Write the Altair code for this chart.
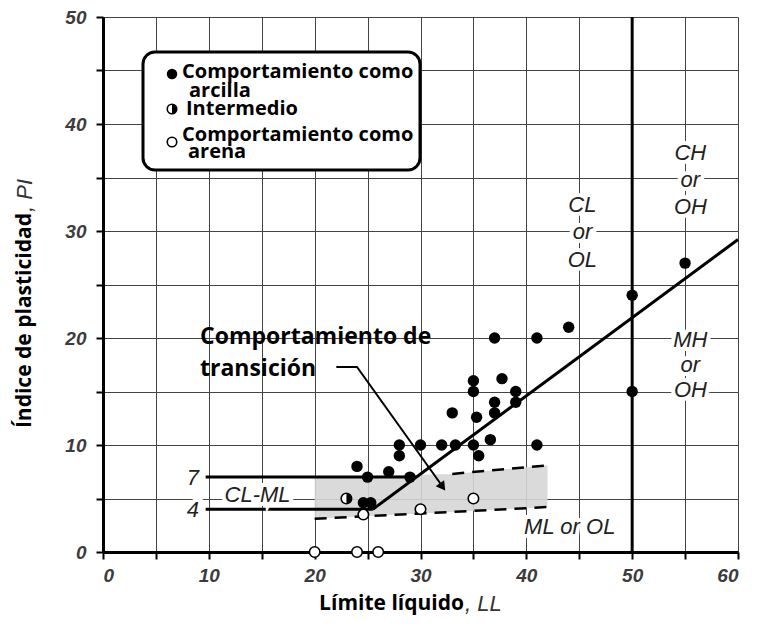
import altair as alt
import pandas as pd

# ---------------- data ----------------
clay_ll = [44, 37, 41, 37.7, 35, 35, 39, 37, 39, 37, 33, 35.3, 36.6, 41, 28, 30, 32,
           33.3, 35, 28, 35.5, 24, 25, 27, 29, 24.6, 25.3, 55, 50, 50]
clay_pi = [21, 20, 20, 16.2, 16, 15, 15, 14, 14, 13, 13, 12.6, 10.5, 10, 10, 10, 10,
           10, 10, 9, 9, 8, 7, 7.5, 7, 4.6, 4.6, 27, 24, 15]
inter_ll = [23]
inter_pi = [5]
sand_ll = [20, 24, 26, 30, 35, 24.6]
sand_pi = [0, 0, 0, 4, 5, 3.5]

aline_ll = [25.5, 60]
aline_pi = [4, 29.2]
pi7_ll = [9.7, 29.6]
pi7_pi = [7, 7]
pi4_ll = [9.7, 25.5]
pi4_pi = [4, 4]
ll50_ll = [50, 50]
ll50_pi = [0, 50]
band_ll = [20, 33, 42]
band_hi = [7, 7.3, 8.1]
band_lo = [3.1, 3.75, 4.2]
updash_ll = [33, 42]
updash_pi = [7.3, 8.1]
arrow_ll = [22.05, 24, 32.1]
arrow_pi = [17.3, 17.3, 6.1]
arrowhead_ll = [32.0]
arrowhead_pi = [6.2]

zone_labels = ["CL", "or", "OL", "CH", "or", "OH", "MH", "or", "OH", "ML or OL", "CL-ML", "7", "4"]
zone_ll = [45.3, 45.3, 45.3, 55.5, 55.5, 55.5, 55.5, 55.5, 55.5, 44.1, 14.6, 8.5, 8.5]
zone_pi = [32.4, 29.9, 27.3, 37.3, 34.8, 32.2, 19.8, 17.5, 15.1, 2.3, 5.3, 6.9, 3.9]

ticks = list(range(0, 61, 5))
yticks = list(range(0, 51, 5))

# ---------------- scales / axes ----------------
xs = alt.Scale(domain=[0, 60], nice=False, zero=False)
ys = alt.Scale(domain=[0, 50], nice=False, zero=False)
common_axis = dict(grid=True, gridColor="#444", gridWidth=1, domainColor="black",
                   domainWidth=3, tickColor="black", tickWidth=2, tickSize=7,
                   labelFont="Liberation Sans", labelFontStyle="italic", labelFontSize=19,
                   labelFontWeight="bold", labelColor="#3c3c3c",
                   labelExpr="datum.value % 10 == 0 ? datum.label : ''",
                   labelOverlap=False, title=None)
xaxis = alt.Axis(values=ticks, labelPadding=7, **common_axis)
yaxis = alt.Axis(values=yticks, labelPadding=10, **common_axis)


def X(f="ll"):
    return alt.X(f + ":Q", scale=xs, axis=xaxis)


def Y(f="pi"):
    return alt.Y(f + ":Q", scale=ys, axis=yaxis)


def df(ll, pi):
    return pd.DataFrame({"ll": ll, "pi": pi})


one = pd.DataFrame({"a": [0]})

layers = []

# shaded transition band
band = pd.DataFrame({"ll": band_ll, "hi": band_hi, "lo": band_lo})
layers.append(alt.Chart(band).mark_area(color="#d6d6d6", opacity=0.9).encode(
    x=X(), y=Y("hi"), y2="lo:Q"))
layers.append(alt.Chart(pd.DataFrame({"ll": band_ll, "pi": band_lo})).mark_line(
    color="black", strokeWidth=2.5, strokeDash=[12, 8]).encode(x=X(), y=Y()))
layers.append(alt.Chart(df(updash_ll, updash_pi)).mark_line(
    color="black", strokeWidth=2.5, strokeDash=[12, 8]).encode(x=X(), y=Y()))

# structural lines
for lx, ly in [(aline_ll, aline_pi), (pi7_ll, pi7_pi), (pi4_ll, pi4_pi), (ll50_ll, ll50_pi)]:
    layers.append(alt.Chart(df(lx, ly)).mark_line(color="black", strokeWidth=3).encode(
        x=X(), y=Y()))

# zone labels with white halo
zdf = pd.DataFrame({"ll": zone_ll, "pi": zone_pi, "t": zone_labels})
layers.append(alt.Chart(zdf).mark_text(font="Liberation Sans", fontStyle="italic", fontSize=22,
                                        stroke="white", strokeWidth=8, color="white").encode(
    x=X(), y=Y(), text="t:N"))
layers.append(alt.Chart(zdf).mark_text(font="Liberation Sans", fontStyle="italic", fontSize=22,
                                        color="#222").encode(x=X(), y=Y(), text="t:N"))

# arrow
adf = pd.DataFrame({"ll": arrow_ll, "pi": arrow_pi, "o": [0, 1, 2]})
layers.append(alt.Chart(adf).mark_line(color="black", strokeWidth=2).encode(
    x=X(), y=Y(), order="o:O"))
layers.append(alt.Chart(df(arrowhead_ll, arrowhead_pi)).mark_point(
    shape="triangle", filled=True, color="black", size=110, angle=144, opacity=1).encode(
    x=X(), y=Y()))

# data points
layers.append(alt.Chart(df(clay_ll, clay_pi)).mark_point(
    shape="circle", filled=True, color="black", size=130, opacity=1).encode(x=X(), y=Y()))
layers.append(alt.Chart(df(sand_ll, sand_pi)).mark_point(
    shape="circle", filled=True, fill="white", stroke="black", strokeWidth=1.6, size=110,
    opacity=1).encode(x=X(), y=Y()))
layers.append(alt.Chart(df(inter_ll, inter_pi)).mark_point(
    shape="circle", filled=True, fill="white", stroke="black", strokeWidth=1.6, size=110,
    opacity=1).encode(x=X(), y=Y()))
half = "M0,-1 A1,1 0 0,1 0,1 Z"
layers.append(alt.Chart(df(inter_ll, inter_pi)).mark_point(
    shape=half, filled=True, color="black", size=110, opacity=1).encode(x=X(), y=Y()))

# transition text
bold = dict(font="Open Sans", fontWeight="bold", color="black")
layers.append(alt.Chart(one).mark_text(text="Comportamiento de", align="left", baseline="middle",
                                       fontSize=23, **bold).encode(x=alt.value(97), y=alt.value(320)))
layers.append(alt.Chart(one).mark_text(text="transición", align="left", baseline="middle",
                                       fontSize=23, **bold).encode(x=alt.value(97), y=alt.value(352)))

# legend box
layers.append(alt.Chart(one).mark_rect(fill="white", stroke="black", strokeWidth=3,
                                       cornerRadius=12).encode(
    x=alt.value(40), x2=alt.value(317), y=alt.value(35), y2=alt.value(153)))
layers.append(alt.Chart(one).mark_point(shape="circle", filled=True, color="black", size=110,
                                        opacity=1).encode(x=alt.value(69), y=alt.value(57)))
layers.append(alt.Chart(one).mark_point(shape="circle", filled=True, fill="white", stroke="black",
                                        strokeWidth=1.6, size=90, opacity=1).encode(
    x=alt.value(69), y=alt.value(92)))
layers.append(alt.Chart(one).mark_point(shape=half, filled=True, color="black", size=90,
                                        opacity=1).encode(x=alt.value(69), y=alt.value(92)))
layers.append(alt.Chart(one).mark_point(shape="circle", filled=True, fill="white", stroke="black",
                                        strokeWidth=1.6, size=90, opacity=1).encode(
    x=alt.value(69), y=alt.value(125)))
for s, px, py in [("Comportamiento como", 79, 55), ("arcilla", 86, 74), ("Intermedio", 83, 92),
                  ("Comportamiento como", 79, 118), ("arena", 85, 135)]:
    layers.append(alt.Chart(one).mark_text(text=s, align="left", baseline="middle", fontSize=20,
                                           **bold).encode(x=alt.value(px), y=alt.value(py)))

# axis titles
layers.append(alt.Chart(one).mark_text(text="Límite líquido", align="right", baseline="middle",
                                       fontSize=21, **bold).encode(x=alt.value(361), y=alt.value(587)))
layers.append(alt.Chart(one).mark_text(text=", LL", align="left", baseline="middle",
                                       fontSize=22, font="Liberation Sans", fontStyle="italic",
                                       color="#333").encode(x=alt.value(362), y=alt.value(587)))
layers.append(alt.Chart(one).mark_text(text="Índice de plasticidad", align="right",
                                       baseline="middle", angle=270, fontSize=21, **bold).encode(
    x=alt.value(-78), y=alt.value(196)))
layers.append(alt.Chart(one).mark_text(text=", PI", align="left", baseline="middle", angle=270,
                                       fontSize=22, font="Liberation Sans", fontStyle="italic",
                                       color="#333").encode(x=alt.value(-78), y=alt.value(195)))

chart = alt.layer(*layers).properties(
    width=635, height=535,
    padding={"left": 103, "top": 17, "right": 20, "bottom": 80},
    autosize=alt.AutoSizeParams(type="none"),
).configure_view(stroke="black", strokeWidth=3).configure(background="white")

chart.save("out.html", embed_options={"renderer": "svg", "actions": False})
